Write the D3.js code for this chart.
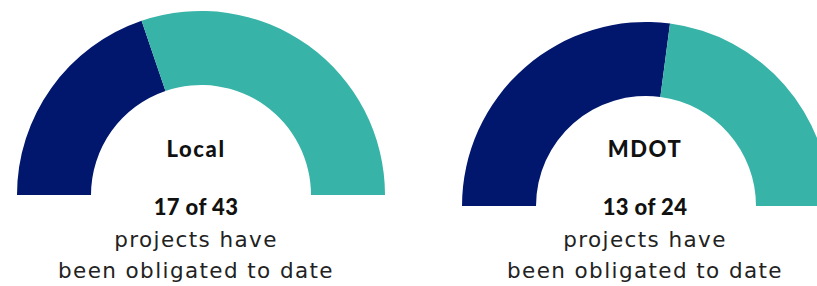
<!DOCTYPE html>
<html><head><meta charset="utf-8">
<script src="https://cdn.jsdelivr.net/npm/d3@7"></script>
<style>html,body{margin:0;padding:0;background:#fff;}svg{display:block;}</style>
</head><body>
<svg id="chart" width="817" height="286"></svg>
<script>
const groups = ["Local", "MDOT"];
const obligated = [17, 13];
const totals = [43, 24];
const captionLines = ["projects have", "been obligated to date"];
const colors = ["#01176D", "#37B3A8"];

const svg = d3.select("#chart");
const centers = [[201, 195], [646, 206]];
const textX = [196, 645];

const pie = d3.pie().sort(null).startAngle(-Math.PI / 2).endAngle(Math.PI / 2);
const arc = d3.arc().innerRadius(110).outerRadius(184);

groups.forEach((g, i) => {
  const parts = [obligated[i], totals[i] - obligated[i]];
  const gg = svg.append("g").attr("transform", `translate(${centers[i][0]},${centers[i][1]})`);
  gg.selectAll("path").data(pie(parts)).join("path")
    .attr("d", arc).attr("fill", (d, j) => colors[j]);

  const t = svg.append("g").attr("text-anchor", "middle").attr("fill", "#111");
  t.append("text").attr("x", textX[i]).attr("y", 157)
    .style("font-family", "Lato").style("font-weight", 900).style("font-size", "22px")
    .style("letter-spacing", "1.6px")
    .text(g);
  t.append("text").attr("x", textX[i]).attr("y", 215)
    .style("font-family", "Lato").style("font-weight", 900).style("font-size", "22px")
    .style("letter-spacing", "0.4px")
    .text(`${obligated[i]} of ${totals[i]}`);
  captionLines.forEach((line, k) => {
    t.append("text").attr("x", textX[i]).attr("y", 247 + k * 31)
      .attr("fill", "#222")
      .style("font-family", "'DejaVu Sans'").style("font-weight", 400).style("font-size", "21.5px")
      .style("letter-spacing", "1.4px")
      .text(line);
  });
});
</script>
</body></html>
